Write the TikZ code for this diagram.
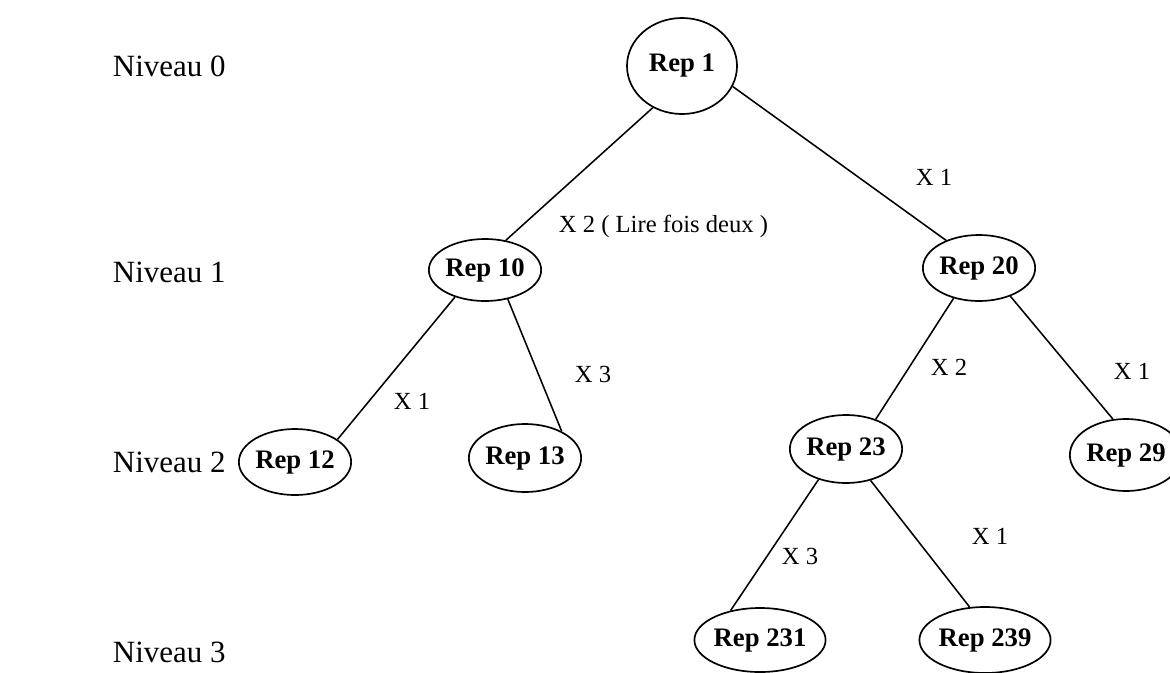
\documentclass[tikz,border=0pt]{standalone}
\usepackage{fontspec}
\setmainfont{Liberation Serif}
\usepackage{tikz}
\usetikzlibrary{shapes.geometric}

\tikzset{
  rep/.style={draw, ellipse, inner sep=0pt, line width=1.2pt,
    font=\fontsize{19}{22}\selectfont\bfseries},
  niveau/.style={anchor=west, font=\fontsize{22}{25}\selectfont},
  poids/.style={font=\fontsize{17.5}{20}\selectfont},
  lien/.style={line width=1.1pt}
}

\begin{document}
\begin{tikzpicture}[x=0.025cm, y=-0.025cm]
    \useasboundingbox (0,0) rectangle (1170,672);
    \node[niveau] (n0) at (108,66) {Niveau 0};
    \node[niveau] (n1) at (108,272) {Niveau 1};
    \node[niveau] (n2) at (108,462) {Niveau 2};
    \node[niveau] (n3) at (108,652) {Niveau 3};
    \node[rep, minimum width=2.75cm, minimum height=2.4cm] (r1) at (682,66) {Rep 1};
    \node[rep, minimum width=2.55cm, minimum height=1.55cm] (r10) at (485,270) {Rep 10};
    \node[rep, minimum width=2.4cm, minimum height=1.65cm] (r20) at (979,268) {Rep 20};
    \node[rep, minimum width=2.5cm, minimum height=1.65cm] (r12) at (295,462) {Rep 12};
    \node[rep, minimum width=2.4cm, minimum height=1.7cm] (r13) at (525,458) {Rep 13};
    \node[rep, minimum width=2.4cm, minimum height=1.7cm] (r23) at (846,449) {Rep 23};
    \node[rep, minimum width=2.35cm, minimum height=1.8cm] (r29) at (1126,455) {Rep 29};
    \node[rep, minimum width=3.05cm, minimum height=1.6cm] (r231) at (760,640) {Rep 231};
    \node[rep, minimum width=3.2cm, minimum height=1.65cm] (r239) at (985,640) {Rep 239};
    \draw[lien] (r1.-125) -- (r10.55);
    \draw[lien] (r1.-22) -- (r20.140);
    \draw[lien] (r10.-138) -- (r12.28);
    \draw[lien] (r10.-52) -- (r13.36);
    \draw[lien] (r20.-130) -- (r23.45);
    \draw[lien] (r20.-42) -- (r29.110);
    \draw[lien] (r23.-132) -- (r231.135);
    \draw[lien] (r23.-52) -- (r239.115);
    \node[poids] (p1) at (934,177) {X 1};
    \node[poids, anchor=west] (p2) at (554,226) {X 2 ( Lire fois deux )};
    \node[poids] (p3) at (412,401) {X 1};
    \node[poids] (p4) at (593,374) {X 3};
    \node[poids] (p5) at (949,367) {X 2};
    \node[poids] (p6) at (1132,371) {X 1};
    \node[poids] (p7) at (800,556) {X 3};
    \node[poids] (p8) at (990,536) {X 1};
\end{tikzpicture}
\end{document}
